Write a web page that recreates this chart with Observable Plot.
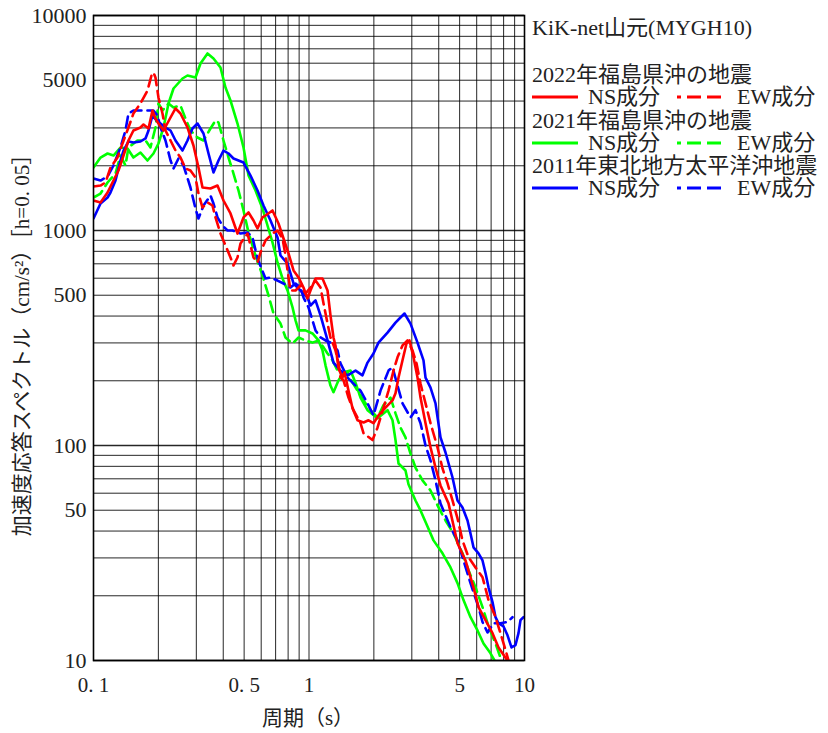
<!DOCTYPE html>
<html><head><meta charset="utf-8">
<script src="https://cdn.jsdelivr.net/npm/d3@7"></script>
<script src="https://cdn.jsdelivr.net/npm/@observablehq/plot@0.6"></script>
<style>
body{margin:0;background:#fff;}
#wrap{position:relative;width:828px;height:733px;overflow:hidden;}
.lg{position:absolute;font-family:"Liberation Serif","Noto Sans CJK JP",serif;font-size:22px;color:#222;white-space:nowrap;line-height:22px;}
.ls{position:absolute;}
</style></head>
<body><div id="wrap"><div id="chart"></div><div id="legend"></div></div>
<script>
// ---- data: [period (s), acceleration response (cm/s^2)] ----
const ns2022 = [[0.100,1379],[0.1078,1350],[0.1162,1502],[0.1238,1708],[0.1306,1901],[0.1378,2232],[0.1453,2622],[0.1532,2918],[0.1652,3013],[0.1706,3112],[0.1800,2982],[0.1878,3615],[0.1939,3319],[0.2002,3145],[0.2113,2918],[0.2277,3354],[0.2402,3694],[0.2533,3501],[0.2730,3013],[0.2910,2485],[0.3070,1963],[0.3205,1585],[0.3490,1568],[0.3761,1619],[0.4011,1379],[0.4322,1200],[0.4658,968],[0.4967,1150],[0.5240,1213],[0.5526,1113],[0.5768,1022],[0.6084,1150],[0.6282,1174],[0.6770,1239],[0.7218,1078],[0.7617,918],[0.8035,782],[0.8476,652],[0.8942,605],[0.9428,543],[0.9839,483],[1.016,526],[1.072,598],[1.155,598],[1.219,526],[1.258,403],[1.299,318],[1.327,292],[1.371,228],[1.430,207],[1.461,219],[1.525,180],[1.592,149],[1.679,131],[1.791,128],[1.889,131],[1.992,127],[2.101,138],[2.265,150],[2.441,162],[2.520,175],[2.603,207],[2.716,249],[2.834,298],[2.927,308],[3.055,257],[3.188,207],[3.292,167],[3.473,127],[3.663,98],[3.864,79],[4.076,65.2],[4.440,53.8],[4.888,35.1],[5.324,29.2],[5.799,21.9],[6.117,17.7],[6.593,15.4],[7.104,13.4],[7.575,11.5],[8.164,10.3],[8.430,9.8]];
const ew2022 = [[0.100,1602],[0.1078,1619],[0.1137,1672],[0.1199,1963],[0.1292,2185],[0.1363,2539],[0.1453,3013],[0.1532,3501],[0.1652,3897],[0.1780,4478],[0.1858,5259],[0.1898,5430],[0.1939,5147],[0.2002,4155],[0.2090,3501],[0.2158,2918],[0.2277,2622],[0.2402,2355],[0.2533,2185],[0.2672,1943],[0.2818,1901],[0.2973,1764],[0.3070,1486],[0.3205,1279],[0.3381,1350],[0.3565,1307],[0.3682,1150],[0.3884,968],[0.4097,852],[0.4322,749],[0.4463,688],[0.4658,749],[0.4810,870],[0.5184,968],[0.5352,852],[0.5526,749],[0.5768,710],[0.5955,790],[0.6282,899],[0.6770,968],[0.7142,1000],[0.7535,918],[0.7781,765],[0.8035,605],[0.8209,526],[0.8660,526],[0.9130,555],[0.9631,509],[1.016,543],[1.072,585],[1.131,543],[1.168,458],[1.219,369],[1.258,318],[1.327,277],[1.371,241],[1.400,207],[1.446,201],[1.525,167],[1.609,146],[1.734,127],[1.791,114],[1.971,106],[2.079,121],[2.217,150],[2.339,180],[2.467,223],[2.575,257],[2.716,292],[2.865,308],[3.022,277],[3.154,241],[3.292,194],[3.473,157],[3.663,127],[3.947,98],[4.164,78.2],[4.393,66.6],[4.634,55.5],[4.888,45.8],[5.155,36.2],[5.498,30.2],[5.924,27.1],[6.385,24.4],[6.808,19.1],[7.336,15.9],[7.739,13.4],[8.164,11.2],[8.430,10.0]];
const ns2021 = [[0.100,1963],[0.1078,2185],[0.1162,2281],[0.1238,2232],[0.1334,2433],[0.1438,2407],[0.1532,2185],[0.1652,2305],[0.1780,2116],[0.1898,2281],[0.2002,2539],[0.2113,3013],[0.2229,3897],[0.2351,4576],[0.2588,5093],[0.2730,5259],[0.2973,5147],[0.3137,5981],[0.3381,6657],[0.3604,6310],[0.3884,5730],[0.4097,4625],[0.4322,4024],[0.4658,3145],[0.4967,2433],[0.5240,1802],[0.5646,1535],[0.6084,1266],[0.6418,1055],[0.6770,880],[0.7142,710],[0.7535,598],[0.7949,526],[0.8386,439],[0.8660,382],[0.8942,343],[0.9631,343],[1.038,332],[1.107,308],[1.155,277],[1.193,236],[1.258,190],[1.299,177],[1.371,201],[1.446,219],[1.558,223],[1.644,196],[1.734,167],[1.869,146],[2.079,134],[2.314,146],[2.441,131],[2.520,106],[2.603,82.5],[2.804,76.5],[2.895,66.0],[3.120,55.5],[3.292,49.9],[3.548,42.0],[3.782,36.2],[4.164,31.5],[4.536,27.1],[4.888,22.9],[5.211,19.1],[5.616,15.9],[6.052,13.8],[6.454,12.0],[6.954,10.8],[7.258,10.0]];
const ew2021 = [[0.100,1424],[0.1078,1486],[0.1162,1672],[0.1265,1841],[0.1334,2232],[0.1407,2006],[0.1453,2433],[0.1599,2622],[0.1743,2622],[0.1838,2433],[0.1939,3013],[0.2002,3897],[0.2090,3615],[0.2229,3897],[0.2351,3733],[0.2533,3814],[0.2672,3319],[0.2818,2918],[0.3037,2707],[0.3239,2622],[0.3490,2982],[0.3682,3248],[0.3802,3179],[0.4011,2622],[0.4231,2185],[0.4463,1841],[0.4708,1535],[0.4967,1239],[0.5240,979],[0.5646,765],[0.6084,618],[0.6487,499],[0.6843,411],[0.7376,369],[0.7781,318],[0.8386,298],[0.8942,318],[0.9631,308],[1.038,301],[1.107,308],[1.168,286],[1.219,268],[1.286,249],[1.356,223],[1.430,212],[1.509,219],[1.592,196],[1.679,180],[1.791,162],[1.929,146],[2.079,135],[2.217,154],[2.389,167],[2.520,141],[2.658,121],[2.804,109],[2.958,91.8],[3.120,79.0],[3.363,68.8],[3.663,61.8],[3.990,51.5],[4.300,44.8],[4.684,39.0],[5.155,31.5],[5.498,26.3],[5.924,21.9],[6.385,17.7],[6.808,14.4],[7.336,12.0],[7.739,10.3]];
const ns2011 = [[0.100,1137],[0.1078,1335],[0.1162,1424],[0.1199,1502],[0.1265,1708],[0.1334,2116],[0.1378,2355],[0.1453,2594],[0.1532,2566],[0.1652,2594],[0.1743,2679],[0.1800,2918],[0.1878,3427],[0.1960,3248],[0.2046,3145],[0.2158,3013],[0.2277,2918],[0.2402,2622],[0.2588,2355],[0.2730,2622],[0.2879,2982],[0.3037,3145],[0.3239,2826],[0.3417,2281],[0.3604,1861],[0.3802,2116],[0.4011,2355],[0.4231,2281],[0.4463,2162],[0.4967,2071],[0.5352,1802],[0.5768,1535],[0.6149,1307],[0.6627,1113],[0.7142,928],[0.7376,765],[0.7949,702],[0.8476,567],[0.9130,526],[0.9839,488],[1.016,448],[1.072,473],[1.131,403],[1.219,308],[1.299,243],[1.400,223],[1.509,212],[1.644,223],[1.771,212],[1.869,243],[1.992,268],[2.101,301],[2.314,335],[2.520,373],[2.658,394],[2.774,411],[2.958,369],[3.188,301],[3.399,249],[3.473,207],[3.663,186],[3.864,157],[4.076,109],[4.300,92.8],[4.634,71.0],[4.888,55.5],[5.155,51.5],[5.440,44.8],[5.616,39.0],[5.799,33.6],[6.117,31.5],[6.385,29.2],[6.593,25.5],[6.808,21.9],[7.104,18.7],[7.336,15.9],[7.575,14.9],[7.991,14.4],[8.340,13.1],[8.702,11.5],[9.083,11.8],[9.379,13.4],[9.580,15.4],[9.893,15.9]];
const ew2011 = [[0.100,1745],[0.1078,1708],[0.1162,1783],[0.1238,2006],[0.1334,2433],[0.1407,2918],[0.1453,3501],[0.1532,3615],[0.1706,3615],[0.1898,3615],[0.1981,3427],[0.2046,3013],[0.2158,2622],[0.2277,2116],[0.2351,1943],[0.2480,2162],[0.2616,2006],[0.2818,1585],[0.2973,1266],[0.3070,1137],[0.3239,1307],[0.3490,1455],[0.3604,1335],[0.3761,1150],[0.3968,1055],[0.4186,1000],[0.4415,1000],[0.4810,968],[0.5184,979],[0.5468,928],[0.5768,741],[0.6282,598],[0.6627,605],[0.7142,585],[0.7617,567],[0.8209,543],[0.8660,567],[0.9130,543],[0.9428,488],[0.9945,439],[1.038,382],[1.072,343],[1.131,318],[1.193,308],[1.258,301],[1.356,277],[1.400,241],[1.509,207],[1.609,194],[1.734,180],[1.869,157],[1.992,138],[2.147,180],[2.339,223],[2.441,231],[2.575,190],[2.716,157],[2.958,135],[3.120,146],[3.292,127],[3.473,100],[3.663,85.2],[3.864,68.8],[4.076,53.7],[4.300,47.3],[4.536,41.6],[4.888,36.2],[5.211,29.2],[5.616,22.9],[6.117,17.7],[6.385,15.1],[6.736,13.5],[7.181,14.9],[7.739,14.9],[8.340,15.1],[8.796,15.9]];

const xGrid = [0.1,0.2,0.3,0.4,0.5,0.6,0.7,0.8,0.9,1,2,3,4,5,6,7,8,9,10];
const yGrid = [10,20,30,40,50,60,70,80,90,100,200,300,400,500,600,700,800,900,1000,2000,3000,4000,5000,6000,7000,8000,9000,10000];
const xTicks = [0.1,0.5,1,5,10];
const xTickLabels = ["0. 1","0. 5","1","5","10"];
const yTicks = [10,50,100,500,1000,5000,10000];
const yTickLabels = ["10","50","100","500","1000","5000","10000"];
const stationName = "KiK-net山元(MYGH10)";
const eventNames = ["2022年福島県沖の地震","2021年福島県沖の地震","2011年東北地方太平洋沖地震"];
const eventColors = ["#ff0000","#00ff00","#0000ff"];
const compNames = ["NS成分","EW成分"];
const xTitle = "周期（s）";
const yTitle = "加速度応答スペクトル（cm/s²）［h=0. 05］";

const FONT = '"Liberation Serif","Noto Sans CJK JP",serif';
const DASH = "11,6";
const series = [
  {data: ns2021, color: eventColors[1], dash: null},
  {data: ew2021, color: eventColors[1], dash: DASH},
  {data: ns2011, color: eventColors[2], dash: null},
  {data: ew2011, color: eventColors[2], dash: DASH},
  {data: ew2022, color: eventColors[0], dash: DASH},
  {data: ns2022, color: eventColors[0], dash: null}
];

const chart = Plot.plot({
  width: 828, height: 733,
  marginLeft: 93, marginRight: 304, marginTop: 15, marginBottom: 73,
  x: {type: "log", domain: [0.1, 10], axis: null},
  y: {type: "log", domain: [10, 10000]},
  style: {fontFamily: FONT, fontSize: "22px", color: "#222", background: "#fff"},
  marks: [
    Plot.ruleX(xGrid, {stroke: "#000", strokeWidth: 1, strokeOpacity: 0.85}),
    Plot.ruleY(yGrid, {stroke: "#000", strokeWidth: d => [10,100,1000,10000].includes(d) ? 1.6 : 1, strokeOpacity: 0.85}),
    ...series.map(s => Plot.line(s.data, {x: d => d[0], y: d => d[1], stroke: s.color, strokeWidth: 2.6,
      strokeDasharray: s.dash, clip: true})),
    Plot.frame({stroke: "#000", strokeWidth: 1.6}),
    Plot.text(xTicks, {x: d => d, y: () => 10, text: d => xTickLabels[xTicks.indexOf(d)], dy: 25,
      fontSize: 21, fill: "#222"}),
    Plot.axisY(yTicks, {tickFormat: d => yTickLabels[yTicks.indexOf(d)], tickSize: 0, tickPadding: 7, label: null})
  ]
});
document.getElementById("chart").appendChild(chart);

const svg = d3.select(chart);
svg.append("text").attr("transform", "translate(22,340) rotate(-90)")
  .attr("text-anchor", "middle").attr("dy", "0.35em")
  .style("font-family", FONT).style("font-size", "21px").attr("fill", "#222").text(yTitle);
svg.append("text").attr("x", 308).attr("y", 718)
  .attr("text-anchor", "middle").attr("dy", "0.35em")
  .style("font-family", FONT).style("font-size", "21px").attr("fill", "#222").text(xTitle);

// legend (right side)
const lg = document.getElementById("legend");
function addText(txt, left, cy) {
  const d = document.createElement("div");
  d.className = "lg"; d.textContent = txt;
  d.style.left = left + "px"; d.style.top = (cy - 11) + "px";
  lg.appendChild(d);
}
function addLine(x1, x2, cy, color, dashed) {
  const ns = "http://www.w3.org/2000/svg";
  const s = document.createElementNS(ns, "svg");
  s.setAttribute("class", "ls");
  s.setAttribute("width", x2 - x1 + 4); s.setAttribute("height", 8);
  s.style.left = (x1 - 2) + "px"; s.style.top = (cy - 4) + "px";
  const l = document.createElementNS(ns, "line");
  l.setAttribute("x1", 2); l.setAttribute("x2", x2 - x1 + 2);
  l.setAttribute("y1", 4); l.setAttribute("y2", 4);
  l.setAttribute("stroke", color); l.setAttribute("stroke-width", 3);
  if (dashed) { l.setAttribute("stroke-dasharray", "14,6"); l.setAttribute("stroke-dashoffset", "10"); }
  s.appendChild(l);
  lg.appendChild(s);
}
addText(stationName, 532, 28);
eventNames.forEach((name, i) => {
  const cy = 75 + i * 45.5;
  addText(name, 532, cy);
  const ry = cy + 22;
  addLine(532, 578, ry, eventColors[i], false);
  addText(compNames[0], 588, ry);
  addLine(677, 726, ry, eventColors[i], true);
  addText(compNames[1], 737, ry);
});
</script>
</body></html>
